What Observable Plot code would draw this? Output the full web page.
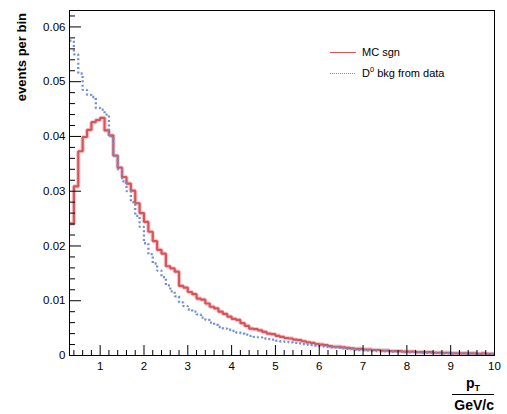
<!DOCTYPE html>
<html><head><meta charset="utf-8">
<script src="https://cdn.jsdelivr.net/npm/d3@7"></script>
<script src="https://cdn.jsdelivr.net/npm/@observablehq/plot@0.6"></script>
<style>body{margin:0;background:#fff;} #chart svg{display:block}</style>
</head><body><div id="chart"></div>
<script>
// Histogram binning: bins of width 0.1 starting at 0.3 up to 10
const binStart = 0.3;
const binWidth = 0.1;
const xMax = 10;

// MC signal (red, solid) - events per bin, bins 0.3 .. 9.9
const mcSgn = [
0.0241,0.0309,0.0373,0.0399,0.0412,0.0426,0.0430,
0.0434,0.0411,0.0402,0.0365,0.0343,0.0326,0.0314,0.0301,0.0278,0.0260,
0.0244,0.0226,0.0209,0.0193,0.0186,0.0163,0.0159,0.0153,0.0127,0.0124,
0.0116,0.0112,0.0104,0.0102,0.0095,0.0089,0.0086,0.0080,0.0076,0.0071,
0.0067,0.0065,0.0059,0.0054,0.0049,0.0048,0.0046,0.0043,0.0040,0.0039,
0.0036,0.0034,0.0032,0.0031,0.0029,0.0028,0.0026,0.0024,0.0023,0.0021,
0.0020,0.0019,0.0017,0.0016,0.0016,0.0015,0.0014,0.0013,0.0012,0.0012,
0.0011,0.0011,0.0010,0.0010,0.0009,0.0009,0.0008,0.0008,0.0008,0.0007,
0.0007,0.0007,0.0006,0.0006,0.0006,0.0006,0.0005,0.0005,0.0005,0.0005,
0.0004,0.0004,0.0004,0.0004,0.0004,0.0004,0.0003,0.0004,0.0003,0.0003
];

// D0 background from data (blue, dotted)
const bkgData = [
0.0575,0.0550,0.0515,0.0485,0.0476,0.0472,0.0452,
0.0449,0.0440,0.0400,0.0365,0.0340,0.0318,0.0300,0.0280,0.0255,0.0235,
0.0205,0.0185,0.0168,0.0155,0.0143,0.0128,0.0117,0.0108,0.0097,0.0090,
0.0084,0.0080,0.0075,0.0069,0.0065,0.0060,0.0056,0.0052,0.0049,0.0047,
0.0045,0.0042,0.0040,0.0038,0.0036,0.0034,0.0033,0.0031,0.0030,0.0029,
0.0027,0.0026,0.0025,0.0024,0.0023,0.0022,0.0021,0.0020,0.0019,0.0018,
0.0017,0.0016,0.0015,0.0015,0.0014,0.0013,0.0012,0.0012,0.0011,0.0010,
0.0010,0.0009,0.0009,0.0008,0.0008,0.0008,0.0007,0.0007,0.0007,0.0006,
0.0006,0.0006,0.0006,0.0005,0.0005,0.0005,0.0005,0.0005,0.0004,0.0004,
0.0004,0.0004,0.0004,0.0004,0.0003,0.0003,0.0003,0.0003,0.0003,0.0003
];

const seriesNames = ["MC sgn", "D0 bkg from data"];
const xTickLabels = [1,2,3,4,5,6,7,8,9,10];
const yTickValues = [0,0.01,0.02,0.03,0.04,0.05,0.06];
const xMinorTicks = [0.4,0.6,0.8,1.2,1.4,1.6,1.8,2.2,2.4,2.6,2.8,3.2,3.4,3.6,3.8,4.2,4.4,4.6,4.8,5.2,5.4,5.6,5.8,6.2,6.4,6.6,6.8,7.2,7.4,7.6,7.8,8.2,8.4,8.6,8.8,9.2,9.4,9.6,9.8];
const yMinorTicks = [0.002,0.004,0.006,0.008,0.012,0.014,0.016,0.018,0.022,0.024,0.026,0.028,0.032,0.034,0.036,0.038,0.042,0.044,0.046,0.048,0.052,0.054,0.056,0.058,0.062];

const W = 507, H = 414;
const mL = 69, mR = 13, mT = 10, mB = 59;
const frameW = W - mL - mR, frameH = H - mT - mB;

function steps(vals) {
  const pts = vals.map((v, i) => ({x: binStart + i * binWidth, y: v}));
  pts.push({x: xMax, y: vals[vals.length - 1]});
  return pts;
}
const redPts = steps(mcSgn);
const bluePts = steps(bkgData);

const RED = "#d6555b", BLUE = "#6e8fd6";

const chart = Plot.plot({
  width: W, height: H,
  marginLeft: mL, marginRight: mR, marginTop: mT, marginBottom: mB,
  style: {fontFamily: "'Liberation Sans', Arial, Helvetica, sans-serif", fontSize: "11.5px", background: "#fff"},
  x: {domain: [binStart, xMax], axis: null},
  y: {domain: [0, 0.063], axis: null},
  marks: [
    Plot.line(redPts, {x: "x", y: "y", curve: "step-after", stroke: RED, strokeWidth: 4.4, strokeOpacity: 0.3, strokeLinecap: "butt", strokeLinejoin: "miter"}),
    Plot.line(redPts, {x: "x", y: "y", curve: "step-after", stroke: RED, strokeWidth: 2.2, strokeLinecap: "butt", strokeLinejoin: "miter"}),
    Plot.line(bluePts, {x: "x", y: "y", curve: "step-after", stroke: BLUE, strokeWidth: 2.3, strokeDasharray: "2,2.4", strokeLinecap: "butt", strokeLinejoin: "miter"}),
    Plot.tickY(yTickValues, {y: d => d, stroke: "black", insetRight: frameW - 12}),
    Plot.tickY(yMinorTicks, {y: d => d, stroke: "black", insetRight: frameW - 6}),
    Plot.tickX(xTickLabels, {x: d => d, stroke: "black", insetTop: frameH - 10}),
    Plot.tickX(xMinorTicks, {x: d => d, stroke: "black", insetTop: frameH - 5}),
    Plot.axisY(yTickValues, {tickSize: 0, tickPadding: 4, label: null, fontSize: 11.5,
      tickFormat: d => d === 0 ? "0" : d.toFixed(2)}),
    Plot.axisX(xTickLabels, {tickSize: 0, tickPadding: 6, label: null, fontSize: 11.5, tickFormat: d => String(d)}),
    Plot.frame({stroke: "black", strokeWidth: 1})
  ]
});
document.getElementById("chart").appendChild(chart);

const svg = d3.select(chart);
const xs = chart.scale("x");
const xRight = xs.apply(xMax);
const font = "'Liberation Sans', Arial, Helvetica, sans-serif";

// y-axis title
svg.append("text")
  .attr("transform", `translate(21,${mT + 3}) rotate(-90)`)
  .attr("text-anchor", "end").attr("dy", "0.35em")
  .attr("font-family", font).attr("font-weight", "bold").attr("font-size", 13)
  .attr("fill", "black")
  .text("events per bin");

// x-axis title as a fraction p_T / GeV/c
const xt = svg.append("text")
  .attr("x", xRight - 21).attr("y", H - 26)
  .attr("text-anchor", "middle")
  .attr("font-family", font).attr("font-weight", "bold").attr("font-size", 14).attr("fill", "black");
xt.append("tspan").text("p");
xt.append("tspan").attr("font-size", 9).attr("dy", 3).text("T");
svg.append("line")
  .attr("x1", xRight - 42).attr("x2", xRight)
  .attr("y1", H - 19.5).attr("y2", H - 19.5)
  .attr("stroke", "black").attr("stroke-width", 1.2);
svg.append("text")
  .attr("x", xRight).attr("y", H - 4)
  .attr("text-anchor", "end")
  .attr("font-family", font).attr("font-weight", "bold").attr("font-size", 14).attr("fill", "black")
  .text("GeV/c");

// legend
const lg = svg.append("g").attr("font-family", font).attr("font-size", 11).attr("fill", "black")
  .attr("text-anchor", "start");
lg.append("line").attr("x1", 330).attr("x2", 356).attr("y1", 52.5).attr("y2", 52.5)
  .attr("stroke", RED).attr("stroke-width", 1);
lg.append("text").attr("x", 362).attr("y", 52).attr("dy", "0.35em").attr("text-anchor", "start").text(seriesNames[0]);
lg.append("line").attr("x1", 330).attr("x2", 356).attr("y1", 73.5).attr("y2", 73.5)
  .attr("stroke", BLUE).attr("stroke-width", 1).attr("stroke-dasharray", "1,1");
const t2 = lg.append("text").attr("x", 362).attr("y", 73).attr("dy", "0.35em").attr("text-anchor", "start");
t2.append("tspan").text("D");
t2.append("tspan").attr("font-size", 7.5).attr("dy", -4.5).text("0");
t2.append("tspan").attr("dy", 4.5).text(" bkg from data");
</script>
</body></html>
